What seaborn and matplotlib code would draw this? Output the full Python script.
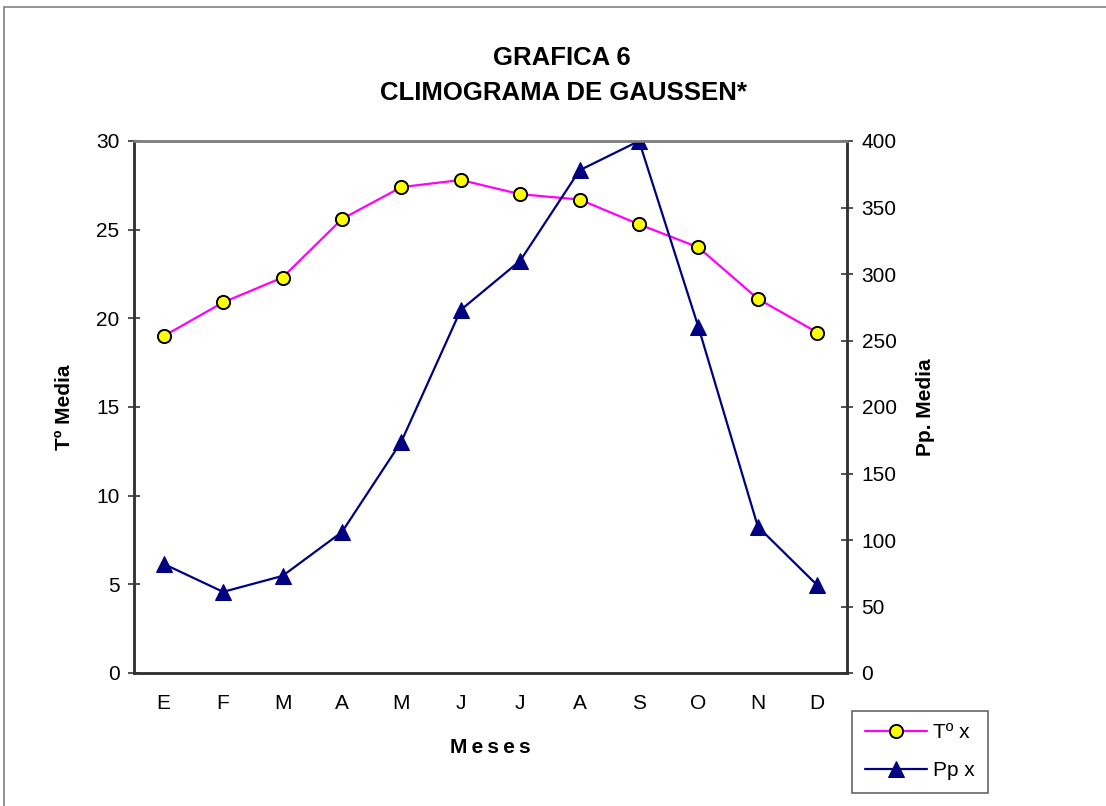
import numpy as np
import pandas as pd
import matplotlib
matplotlib.use("Agg")
import matplotlib.pyplot as plt
from matplotlib.patches import Rectangle
import seaborn as sns

meses = ["E", "F", "M", "A", "M", "J", "J", "A", "S", "O", "N", "D"]
temp_media = [19.0, 20.9, 22.3, 25.6, 27.4, 27.8, 27.0, 26.7, 25.3, 24.0, 21.1, 19.2]
pp_media = [82, 61, 73, 106, 174, 273, 310, 378, 400, 260, 110, 66]

sns.set_style("white")
plt.rcParams["font.family"] = ["Liberation Sans", "DejaVu Sans"]
plt.rcParams["text.color"] = "black"
plt.rcParams["axes.labelcolor"] = "black"
plt.rcParams["xtick.color"] = "black"
plt.rcParams["ytick.color"] = "black"

df = pd.DataFrame({"pos": np.arange(len(meses)), "temp": temp_media, "pp": pp_media})

fig = plt.figure(figsize=(11.06, 8.06), dpi=100)
ax = fig.add_axes([134 / 1106, 1 - 673 / 806, (847 - 134) / 1106, (673 - 141) / 806])
ax2 = ax.twinx()

sns.lineplot(data=df, x="pos", y="temp", ax=ax, color="#FF00FF", linewidth=1.6,
             marker="o", markersize=9.5, markerfacecolor="#FFFF00",
             markeredgecolor="black", markeredgewidth=1.4, label="Tº x", legend=False)
sns.lineplot(data=df, x="pos", y="pp", ax=ax2, color="#000080", linewidth=1.6,
             marker="^", markersize=11, markerfacecolor="#000080",
             markeredgecolor="#000080", label="Pp x", legend=False)

ax.set_xlim(-0.5, len(meses) - 0.5)
ax.set_ylim(0, 30)
ax2.set_ylim(0, 400)
ax.set_yticks(np.arange(0, 31, 5))
ax2.set_yticks(np.arange(0, 401, 50))

# category boundaries carry the tick marks, labels sit at the centres
ax.set_xticks(np.arange(-0.5, len(meses), 1.0))
ax.set_xticklabels([])
ax.set_xticks(np.arange(len(meses)), minor=True)
ax.set_xticklabels(meses, minor=True)
ax.tick_params(axis="x", which="major", direction="inout", length=9, width=1.2, color="#333333")
ax.tick_params(axis="x", which="minor", length=0, pad=15, labelsize=15, labelcolor="black")
ax.tick_params(axis="y", direction="inout", length=9, width=1.2, color="#333333",
               labelsize=15, pad=6, left=True, labelcolor="black")
ax2.tick_params(axis="y", direction="inout", length=9, width=1.2, color="#333333",
                labelsize=15, pad=6, right=True, labelcolor="black")

for a in (ax, ax2):
    a.spines["top"].set_color("#808080")
    a.spines["top"].set_linewidth(1.8)
    for s in ("left", "right", "bottom"):
        a.spines[s].set_color("#333333")
        a.spines[s].set_linewidth(1.8)
    a.grid(False)

ts = "\u2009"
ax.set_xlabel(ts.join("Meses"), fontsize=15, fontweight="bold", labelpad=18)
ax.set_ylabel("Tº Media", fontsize=15, fontweight="bold", labelpad=16)
ax2.set_ylabel("Pp. Media", fontsize=15, fontweight="bold", labelpad=14)

fig.text(562 / 1106, 1 - 58 / 806, "GRAFICA 6", ha="center", va="center",
         fontsize=18.5, fontweight="bold")
fig.text(564 / 1106, 1 - 93 / 806, "CLIMOGRAMA DE GAUSSEN*", ha="center", va="center",
         fontsize=18.5, fontweight="bold")

h1, l1 = ax.get_legend_handles_labels()
h2, l2 = ax2.get_legend_handles_labels()
leg = fig.legend(h1 + h2, l1 + l2, loc="upper left",
                 bbox_to_anchor=(852 / 1106, 1 - 711 / 806), borderaxespad=0,
                 fancybox=False, edgecolor="#666666", framealpha=1, fontsize=15,
                 handlelength=3.0, handletextpad=0.3, labelspacing=0.9,
                 borderpad=0.6)
leg.get_frame().set_linewidth(1.2)

fig.patches.append(Rectangle((4 / 1106, -0.05), 1.1, (806 - 7) / 806 + 0.05,
                             transform=fig.transFigure, fill=False,
                             edgecolor="#808080", linewidth=1.2))

fig.savefig("out.png", dpi=100)
